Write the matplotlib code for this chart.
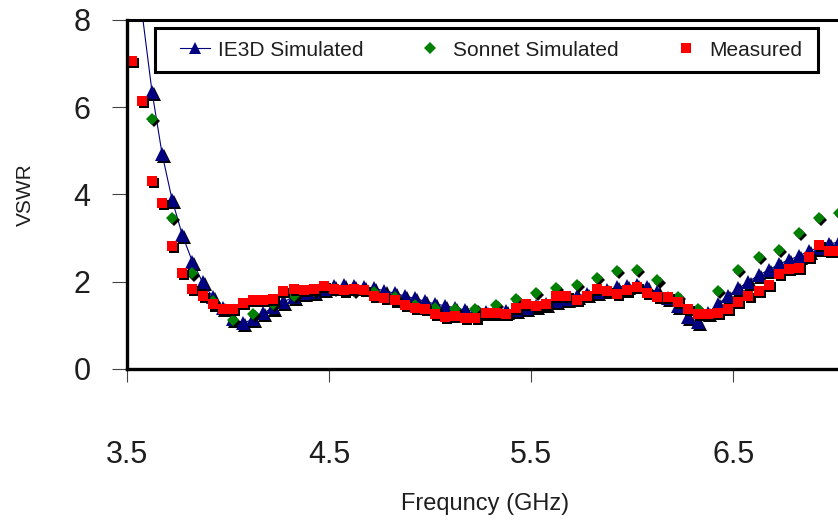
import matplotlib
matplotlib.use('Agg')
import matplotlib.pyplot as plt  # noqa E402
import matplotlib.transforms as mtransforms  # noqa E402
from matplotlib.lines import Line2D  # noqa E402
from matplotlib.patches import Rectangle  # noqa E402

plt.rcParams['font.family'] = ['Liberation Sans', 'DejaVu Sans']

# Sweep frequencies [GHz]
freq = [3.525, 3.575, 3.625, 3.675, 3.725, 3.775, 3.825, 3.875, 3.925, 3.975,
        4.025, 4.075, 4.125, 4.175, 4.225, 4.275, 4.325, 4.375, 4.425, 4.475,
        4.525, 4.575, 4.625, 4.675, 4.725, 4.775, 4.825, 4.875, 4.925, 4.975,
        5.025, 5.075, 5.125, 5.175, 5.225, 5.275, 5.325, 5.375, 5.425, 5.475,
        5.525, 5.575, 5.625, 5.675, 5.725, 5.775, 5.825, 5.875, 5.925, 5.975,
        6.025, 6.075, 6.125, 6.175, 6.225, 6.275, 6.325, 6.375, 6.425, 6.475,
        6.525, 6.575, 6.625, 6.675, 6.725, 6.775, 6.825, 6.875, 6.925, 6.975,
        7.025]

measured = [7.05, 6.14, 4.31, 3.80, 2.81, 2.20, 1.84, 1.67, 1.48, 1.37,
            1.37, 1.51, 1.58, 1.58, 1.61, 1.79, 1.84, 1.82, 1.84, 1.91,
            1.84, 1.80, 1.84, 1.82, 1.68, 1.62, 1.57, 1.46, 1.40, 1.37,
            1.26, 1.20, 1.21, 1.16, 1.18, 1.29, 1.29, 1.27, 1.40, 1.49,
            1.44, 1.50, 1.67, 1.68, 1.59, 1.68, 1.84, 1.78, 1.71, 1.80,
            1.88, 1.74, 1.65, 1.65, 1.53, 1.38, 1.27, 1.25, 1.29, 1.38,
            1.54, 1.68, 1.78, 1.93, 2.18, 2.30, 2.31, 2.56, 2.84, 2.71,
            2.71]

# IE3D sweep starts one step later than the measurement
ie3d_freq = freq[1:]
ie3d = [8.20, 6.36, 4.93, 3.87, 3.07, 2.46, 1.99, 1.65, 1.40,
        1.15, 1.05, 1.14, 1.28, 1.41, 1.53, 1.66, 1.74, 1.77, 1.84,
        1.90, 1.92, 1.91, 1.89, 1.85, 1.79, 1.74, 1.67, 1.62, 1.55,
        1.49, 1.45, 1.40, 1.35, 1.32, 1.30, 1.30, 1.32, 1.35, 1.40,
        1.45, 1.49, 1.55, 1.61, 1.67, 1.72, 1.77, 1.81, 1.87, 1.91,
        1.93, 1.87, 1.76, 1.62, 1.45, 1.20, 1.08, 1.28, 1.49, 1.68,
        1.85, 2.00, 2.15, 2.27, 2.40, 2.50, 2.59, 2.71, 2.78, 2.86,
        2.92]

# Sonnet was run on a coarser 0.1 GHz grid
sonnet_freq = [3.625, 3.725, 3.825, 3.925, 4.025, 4.125, 4.225, 4.325,
               4.425, 4.525, 4.625, 4.725, 4.825, 4.925, 5.025, 5.125,
               5.225, 5.325, 5.425, 5.525, 5.625, 5.725, 5.825, 5.925,
               6.025, 6.125, 6.225, 6.325, 6.425, 6.525, 6.625, 6.725,
               6.825, 6.925, 7.025]
sonnet = [5.74, 3.46, 2.19, 1.55, 1.12, 1.27, 1.50, 1.68,
          1.78, 1.84, 1.78, 1.76, 1.66, 1.47, 1.40, 1.37,
          1.38, 1.46, 1.61, 1.75, 1.86, 1.92, 2.09, 2.24,
          2.26, 2.03, 1.66, 1.38, 1.78, 2.28, 2.56, 2.73,
          3.11, 3.47, 3.57]

series_names = ['IE3D Simulated', 'Sonnet Simulated', 'Measured']

NAVY = '#000080'
GREEN = '#008000'
RED = '#ff0000'
TEXT = '#1e1e1e'

fig = plt.figure(figsize=(8.38, 5.2), dpi=100)
ax = fig.add_axes([0.1512, 0.2904, 0.8488, 0.6712])

# Drop shadow for the markers, shifted right and down
shadow = mtransforms.offset_copy(ax.transData, fig=fig, x=1.5, y=-1.5,
                                 units='points')


def draw_series(x, y, marker, color, size, line=False):
    ax.plot(x, y, linestyle='none', marker=marker, markersize=size,
            color='black', markeredgewidth=0, transform=shadow)
    if line:
        ax.plot(x, y, '-', color=color, linewidth=0.8)
    ax.plot(x, y, linestyle='none', marker=marker, markersize=size,
            color=color, markeredgewidth=0)


draw_series(ie3d_freq, ie3d, '^', NAVY, 9.5, line=True)
draw_series(sonnet_freq, sonnet, 'D', GREEN, 6.6)
draw_series(freq, measured, 's', RED, 7.2)

ax.set_xlim(3.5, 7.018)
ax.set_ylim(0, 8)
ax.set_xticks([3.5, 4.5, 5.5, 6.5])
ax.set_xticklabels(['3.5', '4.5', '5.5', '6.5'])
ax.set_yticks([0, 2, 4, 6, 8])

ax.spines['right'].set_visible(False)
ax.spines['left'].set_linewidth(2.4)
ax.spines['bottom'].set_linewidth(2.4)
ax.spines['top'].set_linewidth(2.2)

ax.tick_params(axis='y', direction='out', length=11, width=0.8,
               color='#444444', pad=15, labelsize=22, labelcolor=TEXT)
ax.tick_params(axis='x', direction='out', length=9, width=0.8,
               color='#444444', pad=42, labelsize=22, labelcolor=TEXT)

fig.text(485 / 838, 1 - 504 / 520, 'Frequncy (GHz)', fontsize=17,
         ha='center', va='center', color=TEXT)
fig.text(25 / 838, 1 - 195 / 520, 'VSWR', fontsize=15, rotation=90,
         ha='center', va='center', color=TEXT)

# Legend frame drawn separately so its size can be set directly
ax.add_patch(Rectangle((155 / 838, 1 - 72 / 520), 663 / 838, 44 / 520,
                       transform=fig.transFigure, clip_on=False,
                       facecolor='white', edgecolor='black',
                       linewidth=2.2, zorder=4))

handles = [Line2D([], [], color=NAVY, linewidth=0.8, marker='^',
                  markersize=8.5, markeredgewidth=0),
           Line2D([], [], linestyle='none', color=GREEN, marker='D',
                  markersize=6, markeredgewidth=0),
           Line2D([], [], linestyle='none', color=RED, marker='s',
                  markersize=6.5, markeredgewidth=0)]
leg = ax.legend(handles, series_names,
                ncol=3, frameon=False, fontsize=15, loc='center',
                bbox_to_anchor=(491 / 838, 1 - 50 / 520),
                bbox_transform=fig.transFigure, handlelength=1.44,
                handletextpad=0.38, columnspacing=2.5, numpoints=1,
                borderpad=0, borderaxespad=0)
for t in leg.get_texts():
    t.set_color(TEXT)

fig.savefig('out.png', dpi=100)
plt.close(fig)
